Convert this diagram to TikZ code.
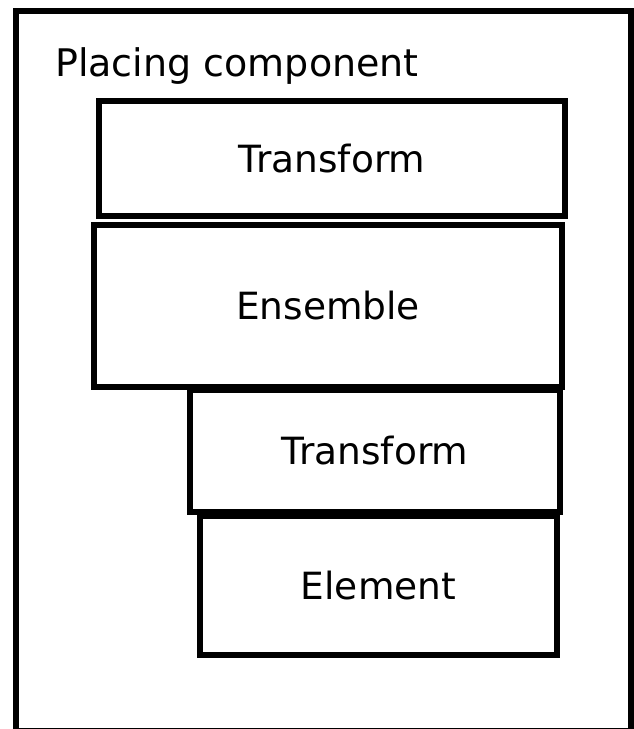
\documentclass[tikz,border=0pt]{standalone}
\usepackage{fontspec}
\setmainfont{DejaVu Sans}
\begin{document}
\begin{tikzpicture}[x=1pt,y=-1pt,
  box/.style={draw=black, line width=6pt, rectangle, inner sep=0pt, font=\fontsize{37.5}{45}\selectfont},
  title/.style={anchor=base west, inner sep=0pt, font=\fontsize{38}{46}\selectfont}]
\useasboundingbox (0,0) rectangle (634,729);
\clip (0,0) rectangle (634,729);
\node[box, minimum width=615pt, minimum height=720pt] (outer) at (323.5,371) {};
\node[title] (ttl) at (55,76) {Placing component};
\node[box, minimum width=466pt, minimum height=115pt] (t1) at (332,158.5) {Transform};
\node[box, minimum width=468pt, minimum height=162pt] (ens) at (328,306) {Ensemble};
\node[box, minimum width=370pt, minimum height=122pt] (t2) at (375,451) {Transform};
\node[box, minimum width=357pt, minimum height=139pt] (el) at (378.5,585.5) {Element};
\end{tikzpicture}
\end{document}
